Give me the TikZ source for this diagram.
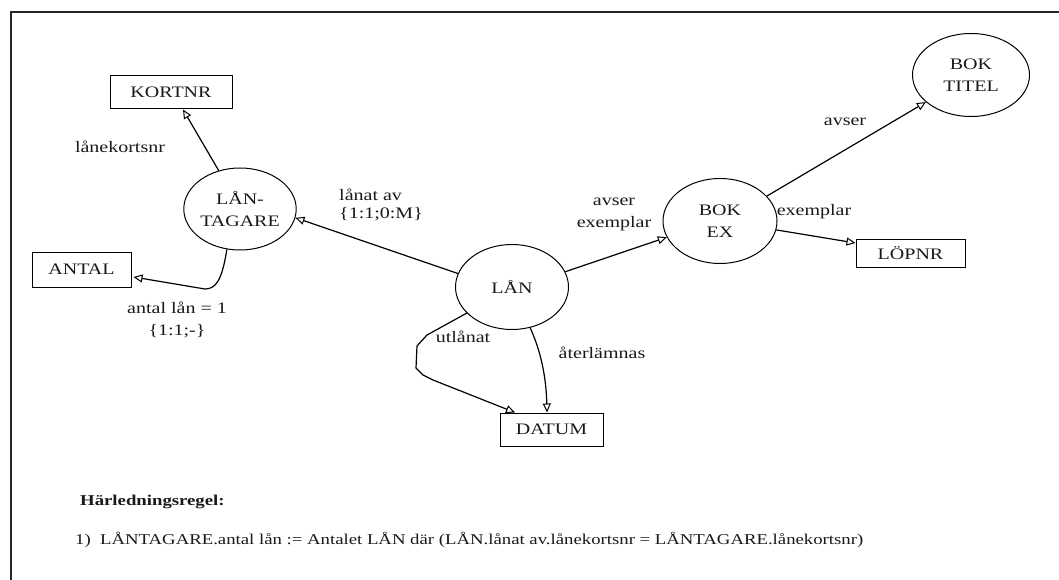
\documentclass[tikz,border=0pt]{standalone}
\usepackage{fontspec}
\setmainfont{Liberation Serif}[FakeStretch=1.25]
\usetikzlibrary{shapes.geometric,arrows.meta,calc}

\begin{document}
\begin{tikzpicture}[x=1pt,y=-1pt,
  every node/.style={font=\fontsize{16}{22}\selectfont, text=black!90},
  entity/.style={draw, ellipse, line width=1pt, inner sep=0pt, align=center},
  attr/.style={draw, rectangle, line width=1pt, inner sep=0pt},
  lbl/.style={inner sep=1pt, align=center},
  link/.style={line width=1.2pt, -{Triangle[open,length=9pt,width=8pt,line width=1pt]}},
]
\useasboundingbox (0,0) rectangle (1059,580);

% frame
\draw[line width=2pt, black!85] (11,580) -- (11,12) -- (1059,12);

% entities
\node[entity, minimum width=111pt, minimum height=82pt] (lt) at (240,209) {LÅN-\\TAGARE};
\node[entity, minimum width=113pt, minimum height=85pt] (lan) at (512,287) {LÅN};
\node[entity, minimum width=114pt, minimum height=85pt] (bokex) at (720,221) {BOK\\EX};
\node[entity, minimum width=117pt, minimum height=83pt] (boktitel) at (971,75) {BOK\\TITEL};

% attributes
\node[attr, minimum width=122pt, minimum height=33pt] (kortnr) at (171,92.5) {KORTNR};
\node[attr, minimum width=99pt, minimum height=35pt] (antal) at (81.5,269.5) {ANTAL};
\node[attr, minimum width=109pt, minimum height=28pt] (lopnr) at (910.5,253) {LÖPNR};
\node[attr, minimum width=103pt, minimum height=33pt] (datum) at (551.5,429.5) {DATUM};

% connectors
\draw[link] (lt.119) -- ($(kortnr.south)+(12,0)$);
\draw[link] (lt.252) .. controls (222,280) and (216,289) .. (205,289) -- ($(antal.east)+(2,7.5)$);
\draw[link] (lan.166) -- (lt.-9);
\draw[link] (lan.16) -- (bokex.197);
\draw[link] (bokex.28) -- (boktitel.211);
\draw[link] (bokex.-9) -- ($(lopnr.west)+(0,-10)$);
\draw[link] (lan.210) -- (427,335) -- (417,346) -- (416,368) -- (423,375) -- (433,380) -- ($(datum.north)+(-36.5,0)$);
\draw[link] (lan.294) .. controls (538,345) and (546,370) .. ($(datum.north)+(-4.5,0)$);

% relation labels
\node[lbl] (l1) at (120,147) {lånekortsnr};
\node[lbl, anchor=west, align=left, font=\fontsize{16}{18}\selectfont] (l2) at (338,205) {lånat av\\\{1:1;0:M\}};
\node[lbl] (l3) at (177,320) {antal lån = 1\\\{1:1;-\}};
\node[lbl] (l4) at (614,214) {avser\\exemplar};
\node[lbl] (l5) at (845,122) {avser};
\node[lbl] (l6) at (814,212) {exemplar};
\node[lbl] (l7) at (463,337) {utlånat};
\node[lbl] (l8) at (602,353) {återlämnas};

% derivation rule
\node[lbl, anchor=west, font=\fontsize{15}{17}\selectfont\bfseries] (h) at (79,502) {Härledningsregel:};
\node[lbl, anchor=west, font=\fontsize{15}{17}\selectfont] (r) at (74,540) {1)\ \ LÅNTAGARE.antal lån := Antalet LÅN där (LÅN.lånat av.lånekortsnr = LÅNTAGARE.lånekortsnr)};
\end{tikzpicture}
\end{document}
